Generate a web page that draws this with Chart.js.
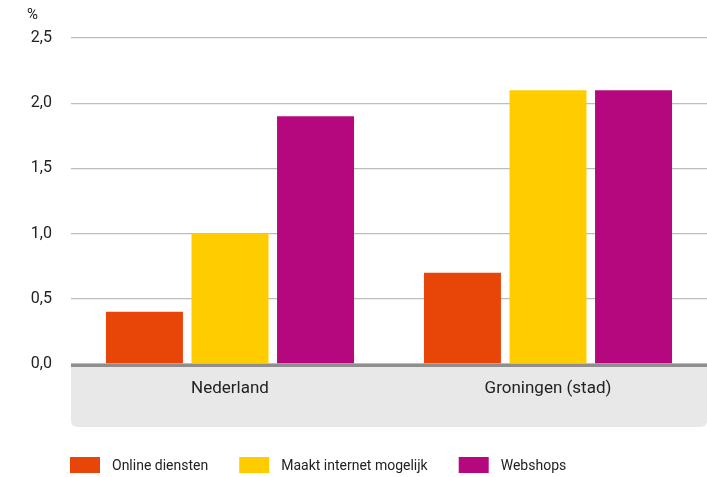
<!DOCTYPE html>
<html>
<head>
<meta charset="utf-8">
<script src="https://cdn.jsdelivr.net/npm/chart.js@4"></script>
<style>
  html, body { margin: 0; padding: 0; background: #fff; }
  #wrap { width: 707px; height: 477px; }
</style>
</head>
<body>
<div id="wrap"><canvas id="chart" width="707" height="477"></canvas></div>
<script>
const categories = ["Nederland", "Groningen (stad)"];
const seriesNames = ["Online diensten", "Maakt internet mogelijk", "Webshops"];
const onlineDiensten = [0.4, 0.7];
const internetMogelijk = [1.0, 2.1];
const webshops = [1.9, 2.1];
const colors = ["#e84508", "#ffcc00", "#b5087f"];

const FONT = "Roboto, 'Noto Sans', sans-serif";

// grey band under the axis, thick baseline, % unit and legend
const decor = {
  id: "decor",
  beforeDraw(chart) {
    const ctx = chart.ctx;
    const a = chart.chartArea;
    ctx.save();
    ctx.fillStyle = "#e8e8e8";
    ctx.beginPath();
    ctx.roundRect(a.left, a.bottom + 3, a.right - a.left, 60, [0, 0, 6, 6]);
    ctx.fill();
    ctx.restore();
  },
  afterDraw(chart) {
    const ctx = chart.ctx;
    const a = chart.chartArea;
    ctx.save();
    ctx.fillStyle = "#8e8e8e";
    ctx.fillRect(a.left, a.bottom, a.right - a.left, 3);

    ctx.fillStyle = "#222";
    ctx.font = "15px " + FONT;
    ctx.textBaseline = "middle";
    ctx.textAlign = "left";
    ctx.fillText("%", 27, 15);

    ctx.font = "14px " + FONT;
    let x = 70;
    chart.data.datasets.forEach(ds => {
      ctx.fillStyle = ds.backgroundColor;
      ctx.fillRect(x, 457, 30, 16);
      ctx.fillStyle = "#222";
      ctx.fillText(ds.label, x + 42, 466);
      x += 42 + ctx.measureText(ds.label).width + 31;
    });
    ctx.restore();
  }
};

new Chart(document.getElementById("chart"), {
  type: "bar",
  data: {
    labels: categories,
    datasets: [
      { label: seriesNames[0], data: onlineDiensten, backgroundColor: colors[0] },
      { label: seriesNames[1], data: internetMogelijk, backgroundColor: colors[1] },
      { label: seriesNames[2], data: webshops, backgroundColor: colors[2] }
    ]
  },
  options: {
    responsive: false,
    animation: false,
    layout: { padding: { top: 38, right: 0, bottom: 0, left: 0 } },
    categoryPercentage: 0.807,
    barPercentage: 0.90,
    plugins: {
      legend: { display: false },
      tooltip: { enabled: false }
    },
    scales: {
      x: {
        grid: { display: false, drawTicks: false },
        border: { display: false },
        ticks: { color: "#222", font: { family: FONT, size: 17 }, padding: 15 },
        afterFit: s => { s.height = 113; }
      },
      y: {
        min: 0,
        max: 2.5,
        grid: { color: "#bdbdbd", lineWidth: 1.3, drawTicks: false },
        border: { display: false },
        ticks: {
          stepSize: 0.5,
          color: "#222",
          padding: 19,
          font: { family: FONT, size: 16 },
          callback: v => v.toFixed(1).replace(".", ",")
        },
        afterFit: s => { s.width = 71; }
      }
    }
  },
  plugins: [decor]
});
</script>
</body>
</html>
